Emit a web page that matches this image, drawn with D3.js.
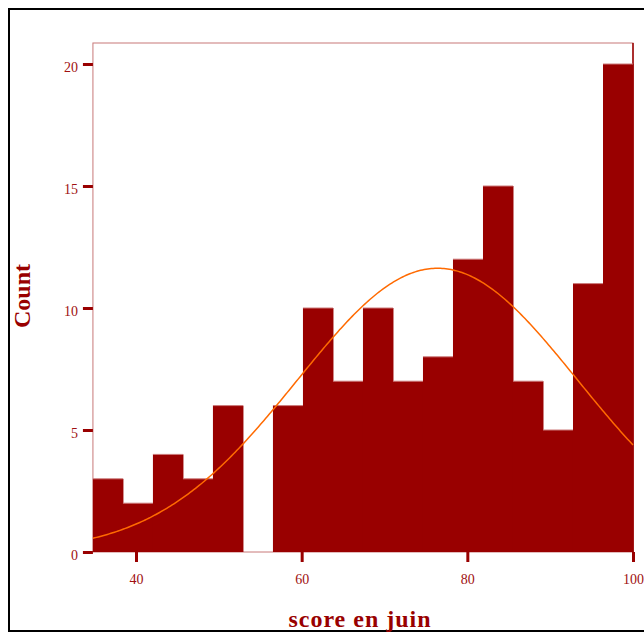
<!DOCTYPE html>
<html><head><meta charset="utf-8">
<script src="https://cdn.jsdelivr.net/npm/d3@7"></script>
<style>body{margin:0;background:#fff}</style>
</head><body>
<script>
// Data
const binStart = 34.8;
const binEnd = 100;
const counts = [3,2,4,3,6,0,6,10,7,10,7,8,12,15,7,5,11,20];
const xTicks = [40,60,80,100];
const yTicks = [0,5,10,15,20];
const fitMean = 76.4;
const fitSd = 16.9;
const xTitle = "score en juin";
const yTitle = "Count";

(function(){
const W = 644, H = 632;
const binWidth = (binEnd - binStart) / counts.length;
const svg = d3.select("body").append("svg").attr("width", W).attr("height", H);

const x = d3.scaleLinear().domain([40,100]).range([136,633]);
const y = d3.scaleLinear().domain([0,20]).range([552,64]);
const pL = x(binStart), pR = x(binEnd), pT = 43, pB = y(0);

// outer frame
svg.append("rect").attr("x",9).attr("y",9).attr("width",640).attr("height",622)
  .attr("fill","none").attr("stroke","#000").attr("stroke-width",2);

// plot frame
svg.append("rect").attr("x",pL).attr("y",pT).attr("width",pR-pL).attr("height",pB-pT)
  .attr("fill","none").attr("stroke","#c87878").attr("stroke-width",1);
svg.append("line").attr("x1",pR).attr("x2",pR).attr("y1",pT).attr("y2",pB)
  .attr("stroke","#990000").attr("stroke-width",1.5);

// bars
const bins = counts.map((c,i)=>({x0: binStart+i*binWidth, x1: binStart+(i+1)*binWidth, c}));
const g = svg.append("g");
g.selectAll("rect").data(bins).join("rect")
  .attr("x", d=>x(d.x0)).attr("width", d=>x(d.x1)-x(d.x0)+0.5)
  .attr("y", d=>y(d.c)).attr("height", d=>y(0)-y(d.c))
  .attr("fill","#990000");
g.selectAll("line").data(bins.filter(d=>d.c>0)).join("line")
  .attr("x1", d=>x(d.x0)).attr("x2", d=>x(d.x1))
  .attr("y1", d=>y(d.c)).attr("y2", d=>y(d.c))
  .attr("stroke","#cc7a7a").attr("stroke-width",1);

// normal curve
const N = d3.sum(counts);
const pts = d3.range(0, 301).map(i => binStart + i*(binEnd-binStart)/300);
const curve = pts.map(v => [v, N*binWidth/(fitSd*Math.sqrt(2*Math.PI))*Math.exp(-0.5*((v-fitMean)/fitSd)**2)]);
svg.append("path").datum(curve)
  .attr("d", d3.line().x(d=>x(d[0])).y(d=>y(d[1])))
  .attr("fill","none").attr("stroke","#ff6a00").attr("stroke-width",1.5);

// axes
const font = "'Liberation Serif', 'Times New Roman', serif";
const xa = svg.append("g").attr("transform",`translate(0,${pB})`)
  .call(d3.axisBottom(x).tickValues(xTicks).tickSize(10).tickPadding(12).tickFormat(d3.format("d")));
const ya = svg.append("g").attr("transform",`translate(${pL},0)`)
  .call(d3.axisLeft(y).tickValues(yTicks).tickSize(10).tickPadding(5).tickFormat(d3.format("d")));
[xa, ya].forEach(a=>{
  a.select(".domain").remove();
  a.selectAll(".tick line").attr("stroke","#990000").attr("stroke-width",3);
  a.selectAll(".tick text").attr("fill","#a01010").attr("font-family",font).attr("font-size",14);
});
ya.selectAll(".tick text").attr("dy","0.5em");

// titles
svg.append("text").attr("x",360).attr("y",627).attr("text-anchor","middle")
  .attr("font-family",font).attr("font-weight","bold").attr("font-size",24)
  .attr("letter-spacing","1px").attr("fill","#990000").text(xTitle);
svg.append("text").attr("transform","translate(30,296) rotate(-90)").attr("text-anchor","middle")
  .attr("font-family",font).attr("font-weight","bold").attr("font-size",24)
  .attr("fill","#990000").text(yTitle);
})();
</script>
</body></html>
